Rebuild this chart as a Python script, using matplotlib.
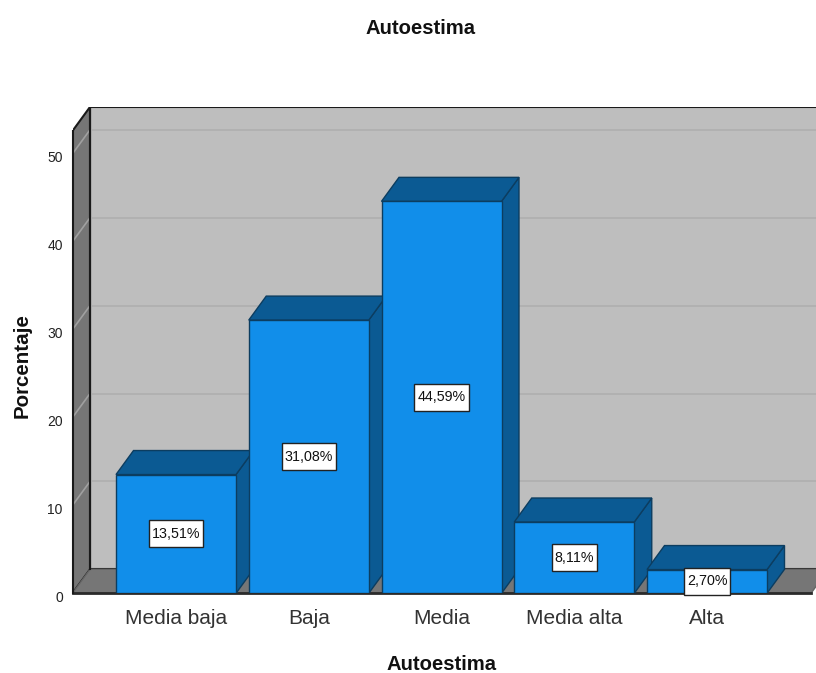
import matplotlib
matplotlib.use("Agg")
import matplotlib.pyplot as plt
from matplotlib.patches import Polygon
from matplotlib.path import Path
from matplotlib.transforms import ScaledTranslation

categories = ["Media baja", "Baja", "Media", "Media alta", "Alta"]
values = [13.51, 31.08, 44.59, 8.11, 2.70]
labels = ["13,51%", "31,08%", "44,59%", "8,11%", "2,70%"]
yticks = [0, 10, 20, 30, 40, 50]

W, H = 816, 673
plt.rcParams["font.family"] = ["Liberation Sans", "DejaVu Sans"]
fig = plt.figure(figsize=(W / 100, H / 100), dpi=100)
L, R, B, T = 72.5, 816, 593.3, 107
ax = fig.add_axes([L / W, 1 - B / H, (R - L) / W, (B - T) / H])

PX_X, C0 = 132.75, 176
PX_Y = 8.79
x0 = (L - C0) / PX_X
x1 = (R - C0) / PX_X
y1 = (B - T) / PX_Y
ax.set_xlim(x0, x1)
ax.set_ylim(0, y1)
for s in ax.spines.values():
    s.set_visible(False)

dx = 17.5 / PX_X
dy = 24 / PX_Y
top = 52.6
xr = (811 - C0) / PX_X
bw = 120 / PX_X

WALL, SIDE, EDGE = "#BEBEBE", "#767676", "#1A1A1A"
FRONT, DARK, BEDGE = "#118EEA", "#0B5A93", "#0C3D60"
GRID = "#B0B0B0"


def poly(pts, fc, ec=EDGE, lw=1.0, z=1):
    ax.add_patch(Polygon(pts, closed=True, fc=fc, ec=ec, lw=lw, zorder=z, clip_on=True))


def label_box(x, y, width, height, mutation_size):
    # Box with a small side margin and a tall vertical margin, in pixels.
    cy = y + height / 2
    half = 13.5
    a, b = x - 3, x + width + 3
    return Path([(a, cy - half), (b, cy - half), (b, cy + half), (a, cy + half), (a, cy - half)], closed=True)


# back wall, left wall, floor
poly([(x0 + dx, dy), (x1 + 1, dy), (x1 + 1, top + dy), (x0 + dx, top + dy)], WALL, lw=1.5)
poly([(x0, 0), (x0 + dx, dy), (x0 + dx, top + dy), (x0, top)], SIDE, lw=1.5)
poly([(x0, 0), (xr, 0), (xr + dx, dy), (x0 + dx, dy)], SIDE, ec="#666666", lw=1.0)

# gridlines on the walls
for t in yticks[1:]:
    ax.plot([x0, x0 + dx], [t, t + dy], color="#A0A0A0", lw=1.2, zorder=2)
    ax.plot([x0 + dx, x1], [t + dy, t + dy], color=GRID, lw=1.3, zorder=2)

# walls' corner edge redrawn over gridlines
ax.plot([x0 + dx, x0 + dx], [dy, top + dy], color=EDGE, lw=1.5, zorder=2.5)
ax.plot([x0, xr], [0, 0], color="#2A2A2A", lw=2.0, zorder=2.6, clip_on=False)
ax.plot([x0, x0], [0, top], color=EDGE, lw=1.5, zorder=2.6, clip_on=False)

# bars
for i, v in enumerate(values):
    l, r = i - bw / 2, i + bw / 2
    z = 3 + i * 0.1
    poly([(r, 0), (r + dx, dy), (r + dx, v + dy), (r, v)], DARK, ec=BEDGE, z=z)
    poly([(l, v), (r, v), (r + dx, v + dy), (l + dx, v + dy)], DARK, ec=BEDGE, z=z)
    poly([(l, 0), (r, 0), (r, v), (l, v)], FRONT, ec=BEDGE, z=z + 0.01)
    ax.text(i, v / 2, labels[i], ha="center", va="center", fontsize=10.3, color="#111111",
            zorder=5, bbox=dict(boxstyle=label_box, fc="white", ec="#222222", lw=1.0))

ax.set_xticks(range(len(categories)))
ax.set_xticklabels(categories, fontsize=15, color="#333333")
ax.set_yticks(yticks)
ax.set_yticklabels([str(t) for t in yticks], fontsize=10, color="#222222")
ax.tick_params(axis="x", length=0, pad=11)
ax.tick_params(axis="y", length=0, pad=7)
shift = ScaledTranslation(0, -3 / 72 * 0.72, fig.dpi_scale_trans)
for lab in ax.get_yticklabels():
    lab.set_transform(lab.get_transform() + shift)
ax.patch.set_visible(False)

fig.text(421 / W, 1 - 29 / H, "Autoestima", ha="center", va="center", fontsize=14.6, fontweight="bold", color="#111111")
fig.text(442 / W, 1 - 665 / H, "Autoestima", ha="center", va="center", fontsize=14.6, fontweight="bold", color="#111111")
fig.text(22 / W, 1 - 366 / H, "Porcentaje", ha="center", va="center", rotation=90, fontsize=14.8, fontweight="bold", color="#111111")

fig.savefig("out.png", dpi=100)
